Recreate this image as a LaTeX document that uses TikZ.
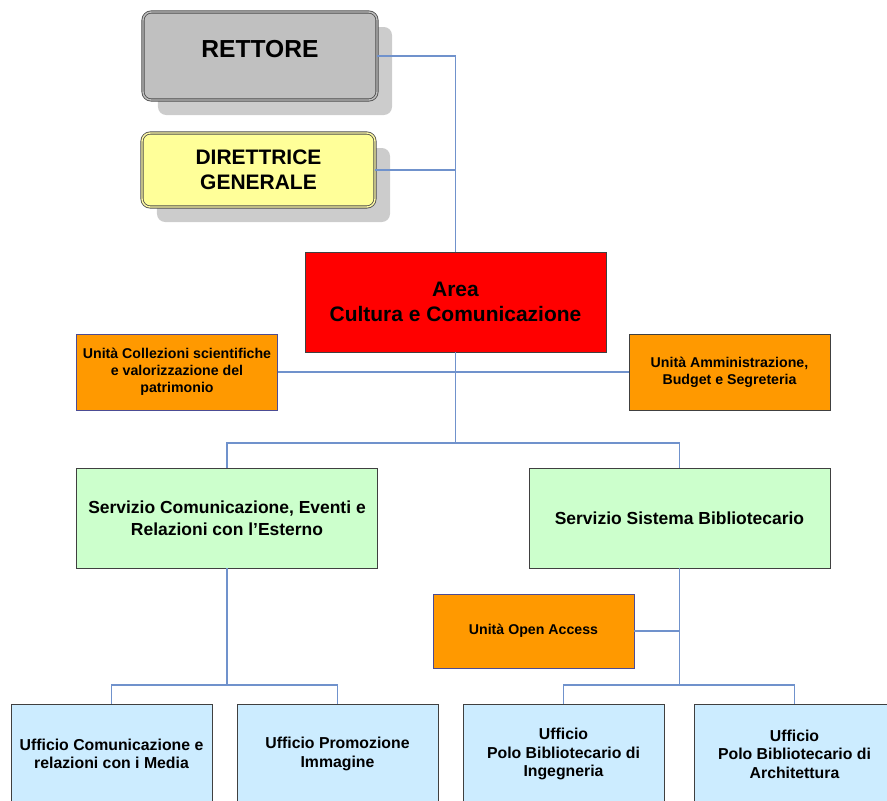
\documentclass[tikz,border=0pt]{standalone}
\usepackage{fontspec}
\setmainfont{Liberation Sans}
\usepackage{tikz}
\usetikzlibrary{shapes,positioning,calc,shadows}
\definecolor{linkblue}{RGB}{112,146,204}
\definecolor{grayfill}{RGB}{192,192,192}
\definecolor{yellowfill}{RGB}{255,255,153}
\definecolor{orangefill}{RGB}{255,153,0}
\definecolor{greenfill}{RGB}{204,255,204}
\definecolor{bluefill}{RGB}{204,236,255}

\begin{document}
\begin{tikzpicture}[
    x=0.03cm, y=-0.03cm,
    topbox/.style={rectangle, rounded corners=7pt, draw=black!70, double=black!25, double distance=1.2pt, line width=0.7pt, align=center, inner sep=0pt,
        drop shadow={shadow xshift=0.45cm, shadow yshift=-0.45cm, fill=black!20, opacity=1}},
    areabox/.style={rectangle, draw=black!75, fill=red, line width=0.8pt, align=center, minimum width=9.03cm, minimum height=3cm, font=\fontsize{17.9}{21.5}\selectfont\bfseries},
    unitbox/.style={rectangle, draw=black!75, fill=orangefill, line width=0.8pt, align=center, minimum width=6.03cm, font=\fontsize{12.1}{14.5}\selectfont\bfseries},
    servbox/.style={rectangle, draw=black!75, fill=greenfill, line width=0.8pt, align=center, minimum width=9.03cm, minimum height=3cm, font=\fontsize{14.9}{18.8}\selectfont\bfseries},
    offbox/.style={rectangle, draw=black!75, fill=bluefill, line width=0.8pt, align=center, minimum width=6.03cm, minimum height=3cm, font=\fontsize{13.5}{15.8}\selectfont\bfseries},
    link/.style={draw=linkblue, line width=0.9pt}
]
\useasboundingbox (0,0) rectangle (887,800);
\clip (0,0) rectangle (887,800);

% Nodes
\node[topbox, fill=grayfill, minimum width=7.02cm, minimum height=2.64cm, text depth=12pt, font=\fontsize{21}{25}\selectfont\bfseries] (rett) at (260,56) {RETTORE};
\node[topbox, fill=yellowfill, double=yellow!35, minimum width=6.99cm, minimum height=2.22cm, font=\fontsize{17.9}{21.5}\selectfont\bfseries] (dir) at (258.5,170) {DIRETTRICE\\GENERALE};
\node[areabox] (area) at (455.5,302) {Area\\Cultura e Comunicazione};
\node[unitbox, draw=blue!40!black!70, minimum height=2.28cm] (ucoll) at (177,372) {Unità Collezioni scientifiche\\e valorizzazione del\\patrimonio};
\node[unitbox, minimum height=2.28cm] (uamm) at (729.5,372) {Unità Amministrazione,\\Budget e Segreteria};
\node[servbox] (scom) at (227,518) {Servizio Comunicazione, Eventi e\\Relazioni con l’Esterno};
\node[servbox] (ssib) at (679.5,518) {Servizio Sistema Bibliotecario};
\node[unitbox, draw=blue!40!black!70, minimum height=2.22cm] (uoa) at (533.5,631) {Unità Open Access};
\node[offbox] (ucom) at (111.5,754) {Ufficio Comunicazione e\\relazioni con i Media};
\node[offbox] (uprom) at (337.5,754) {Ufficio Promozione\\Immagine};
\node[offbox] (uing) at (563.5,754) {Ufficio\\Polo Bibliotecario di\\Ingegneria};
\node[offbox] (uarch) at (794.5,754) {Ufficio\\Polo Bibliotecario di\\Architettura};

% Split points
\coordinate (split1) at (455.5,443);
\coordinate (split2) at (227,685);
\coordinate (split3) at (679.5,685);

% Lines
\draw[link] (rett.east) -| (area.north);
\draw[link] (dir.east) -- (dir.east -| area.north);
\draw[link] (ucoll.east) -- (uamm.west);
\draw[link] (area.south) -- (split1);
\draw[link] (split1) -| (scom.north);
\draw[link] (split1) -| (ssib.north);
\draw[link] (scom.south) -- (split2);
\draw[link] (split2) -| (ucom.north);
\draw[link] (split2) -| (uprom.north);
\draw[link] (ssib.south) -- (split3);
\draw[link] (uoa.east) -- (uoa.east -| ssib.south);
\draw[link] (split3) -| (uing.north);
\draw[link] (split3) -| (uarch.north);

\end{tikzpicture}
\end{document}
